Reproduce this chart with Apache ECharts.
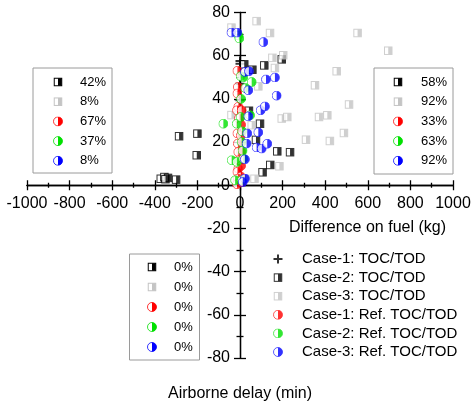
<!DOCTYPE html>
<html><head><meta charset="utf-8">
<script src="https://cdn.jsdelivr.net/npm/echarts@6/dist/echarts.min.js"></script>
<style>html,body{margin:0;padding:0;background:#fff}#c{width:473px;height:405px}</style>
</head><body><div id="c"></div>
<script>
// ---- data ----
const seriesNames = ['Case-1: TOC/TOD', 'Case-2: TOC/TOD', 'Case-3: TOC/TOD',
  'Case-1: Ref. TOC/TOD', 'Case-2: Ref. TOC/TOD', 'Case-3: Ref. TOC/TOD'];
const xTickMin = -1000, xTickMax = 1000, xTickStep = 200;
const yTickMin = -80, yTickMax = 80, yTickStep = 20;
const xTitle = 'Difference on fuel (kg)';
const yTitle = 'Airborne delay (min)';

const case1TOC = [[0,57.5],[0,56.3],[0,47],[0,39.4]];
const case2TOC = [[-286,22.7],[-200,23.9],[-203,13.9],[-372,3],[-355,3.8],[-338,3.4],[-300,2.6],[-350,2.8],
  [58,53.5],[114,55.5],[196,58.3],[94,28.5],[75,21],[175,15.7],[235,15.3],[142,9.4],[106,6],[42,34.5],[20,56]];
const case3TOC = [[-40,73],[-40,32.5],
  [78,76],[141,70.5],[552,70.5],[696,62.3],[152,59],[203,60.2],[164,54.3],[454,52.8],[352,46.3],[86,45.8],
  [512,37.4],[196,30.9],[222,31.6],[371,31.6],[410,32.4],[310,21.1],[422,20.5],[488,24.2],[185,8.8],
  [68,3],[55,27.8],[25,3]];
const case1Ref = [[-12,53],[-10,45.5],[-12,42.5],[-8,36.3],[-14,34.7],[8,34.7],[-5,30.9],[5,28],[-12,24],
  [4,23],[-10,19.3],[6,15.4],[-8,15.4],[-6,11.6],[5,9],[-8,7.7],[-12,6.2],[4,4],[-10,3.1],[6,1.5],[-14,0.5]];
const case2Ref = [[-8,69.4],[-3,68],[-78,28.5],[-15,28.5],[-39,11.6],[-15,10.8],[-23,2.3],
  [15,50],[55,47.8],[3,50.5],[3,31.6],[47,32.4],[8,20],[15,12.3],[8,2.3],[10,25],[25,45],[5,40],[12,16]];
const case3Ref = [[-40,70.7],[-13,70.7],
  [110,66.3],[23,52.5],[42,52.8],[122,49],[164,49.9],[39,44],[172,41.5],[97,34.7],[117,36.5],[39,31.9],
  [34,24],[86,24.5],[31,19.3],[78,17.5],[102,17],[128,19.2],[23,12],[23,3.1],[13,1.5]];

const pctTopLeft = ['42%','8%','67%','37%','8%'];
const pctTopRight = ['58%','92%','33%','63%','92%'];
const pctBottomLeft = ['0%','0%','0%','0%','0%'];

// ---- marker glyphs ----
function uri(svg){ return 'data:image/svg+xml;charset=utf-8,' + encodeURIComponent(svg); }
function sq(stroke, fill){
  return uri('<svg xmlns="http://www.w3.org/2000/svg" width="20" height="20" viewBox="0 0 20 20">' +
    '<rect x="2.5" y="2.5" width="15" height="15" fill="#fff" stroke="'+stroke+'" stroke-width="2"/>' +
    '<rect x="10" y="2.5" width="7.5" height="15" fill="'+fill+'"/></svg>');
}
function circ(c){
  return uri('<svg xmlns="http://www.w3.org/2000/svg" width="20" height="20" viewBox="0 0 20 20">' +
    '<circle cx="10" cy="10" r="9" fill="#fff" stroke="'+c+'" stroke-width="1.6"/>' +
    '<path d="M10 1 A9 9 0 0 1 10 19 Z" fill="'+c+'"/></svg>');
}
const plus = uri('<svg xmlns="http://www.w3.org/2000/svg" width="20" height="20" viewBox="0 0 20 20">' +
  '<path d="M10 1V19M1 10H19" stroke="#000" stroke-width="4"/></svg>');
const icons = [plus, sq('#000','#000'), sq('#c4c4c4','#c4c4c4'), circ('#ff0000'), circ('#00e000'), circ('#0000ff')];
const seriesData = [case1TOC, case2TOC, case3TOC, case1Ref, case2Ref, case3Ref];

const FONT = 'Liberation Sans, Arial, sans-serif';
const axisColor = '#000';
const plain = function(v){ return String(v); };
const lineW = 1.3;

function box(x, y, w, h, symX, txtX, row0, rowGap, pcts){
  const els = [{type:'rect', shape:{x:x, y:y, width:w, height:h}, style:{fill:'none', stroke:'#9a9a9a', lineWidth:1}}];
  pcts.forEach(function(p, i){
    const cy = row0 + i*rowGap;
    els.push({type:'image', style:{image: icons[i+1], x: symX-5, y: cy-5, width:10, height:10}});
    els.push({type:'text', style:{text:p, x: txtX, y: cy, fontSize:13, fontFamily:FONT, fill:'#000', verticalAlign:'middle', align:'left'}});
  });
  return els;
}

function hiddenAxis(type, grid, min, max){
  return {type:'value', gridIndex:grid, min:min, max:max, show:false};
}
const tickStyle = {color:axisColor, width:lineW};

// grid 0: plotting grid, axes cross at zero (ticks pointing inward-side)
const xMain = {type:'value', gridIndex:0, position:'bottom', min:xTickMin, max:xTickMax, interval:xTickStep,
  axisLine:{show:true, onZero:true, lineStyle:tickStyle},
  axisTick:{show:true, inside:true, length:5, lineStyle:tickStyle},
  minorTick:{show:true, splitNumber:2, length:2.5, lineStyle:tickStyle},
  splitLine:{show:false}, axisLabel:{show:false},
  name:xTitle, nameLocation:'end', nameGap:-7, nameMoveOverlap:false,
  nameTextStyle:{fontSize:16, color:'#000', align:'right', verticalAlign:'top', padding:[34,0,0,0], fontFamily:FONT}};
const yMain = {type:'value', gridIndex:0, position:'left', min:yTickMin, max:yTickMax, interval:yTickStep,
  axisLine:{show:true, onZero:true, lineStyle:tickStyle},
  axisTick:{show:true, inside:true, length:6, lineStyle:tickStyle},
  minorTick:{show:true, splitNumber:2, length:3.5, lineStyle:tickStyle},
  splitLine:{show:false}, axisLabel:{show:false},
  name:yTitle, nameLocation:'start', nameGap:28, nameMoveOverlap:false,
  nameTextStyle:{fontSize:16, color:'#000', fontFamily:FONT}};
// grid 1: upper half, its bottom x-axis carries the labelled x scale along y = 0
const xLab = {type:'value', gridIndex:1, position:'bottom', min:xTickMin, max:xTickMax, interval:xTickStep,
  axisLine:{show:true, onZero:false, lineStyle:tickStyle},
  axisTick:{show:true, inside:false, length:5, lineStyle:tickStyle},
  minorTick:{show:true, splitNumber:2, length:2.5, lineStyle:tickStyle},
  splitLine:{show:false},
  axisLabel:{show:true, fontSize:16, color:'#000', margin:10, fontFamily:FONT, formatter:plain,
    showMinLabel:true, showMaxLabel:true, hideOverlap:false}};
// grid 2: right half, its left y-axis carries the labelled y scale along x = 0
const yLab = {type:'value', gridIndex:2, position:'left', min:yTickMin, max:yTickMax, interval:yTickStep,
  axisLine:{show:true, onZero:false, lineStyle:tickStyle},
  axisTick:{show:true, inside:false, length:6, lineStyle:tickStyle},
  minorTick:{show:true, splitNumber:2, length:3.5, lineStyle:tickStyle},
  splitLine:{show:false},
  axisLabel:{show:true, fontSize:16, color:'#000', margin:10, fontFamily:FONT, formatter:plain,
    showMinLabel:true, showMaxLabel:true, hideOverlap:false}};

const G = {left:27, right:20, top:12.5, bottom:47};
const chart = echarts.init(document.getElementById('c'), null, {renderer:'canvas'});
function gridOpt(o){ return Object.assign({containLabel:false, outerBoundsMode:'none'}, o); }
const option = {
  animation:false,
  backgroundColor:'#fff',
  textStyle:{fontFamily:FONT},
  grid:[gridOpt(G), gridOpt(G), gridOpt(G)],
  xAxis:[xMain, xLab, hiddenAxis('x', 2, xTickMin, xTickMax)],
  yAxis:[yMain, hiddenAxis('y', 1, yTickMin, yTickMax), yLab],
  legend:{orient:'vertical', left:254, top:246, itemWidth:38, itemHeight:10, itemGap:2.6,
    selectedMode:false, symbolKeepAspect:true,
    textStyle:{fontSize:15, color:'#000', lineHeight:16, fontFamily:FONT},
    data: seriesNames.map(function(n, i){ return {name:n, icon:'image://' + icons[i]}; })},
  series: seriesNames.map(function(n, i){
    return {type:'scatter', name:n, data:seriesData[i], xAxisIndex:0, yAxisIndex:0,
      symbol:'image://' + icons[i], symbolSize:10, z: 2 + i, emphasis:{disabled:true}};
  }),
  graphic:[].concat(
    box(33, 68, 79, 105, 58, 80, 82, 19.7, pctTopLeft),
    box(374, 68, 79, 106, 398, 421, 82, 19.7, pctTopRight),
    box(129.5, 254, 70, 106, 152, 174, 267, 20, pctBottomLeft)
  )
};
chart.setOption(option);
// place the labelled helper axes on the zero lines of the plotting grid
const zero = chart.convertToPixel({gridIndex:0}, [0, 0]);
chart.setOption({grid:[
  gridOpt(G),
  gridOpt({left:G.left, right:G.right, top:G.top, height: zero[1] - G.top}),
  gridOpt({left: zero[0], right:G.right, top:G.top, bottom:G.bottom})
]});
</script></body></html>
